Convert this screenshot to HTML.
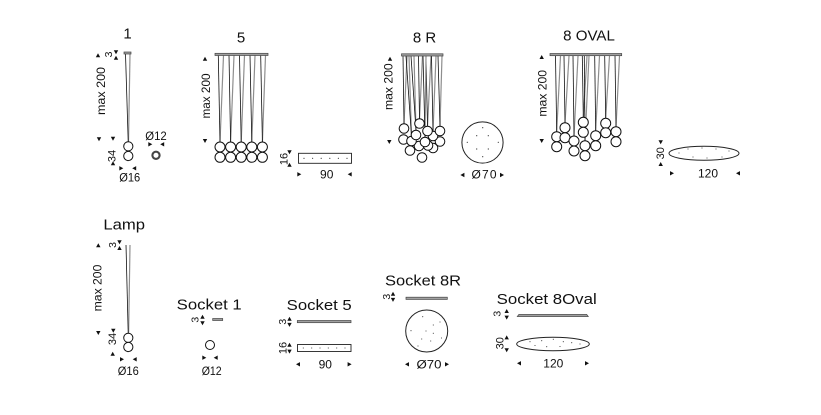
<!DOCTYPE html>
<html><head><meta charset="utf-8"><style>
html,body{margin:0;padding:0;background:#fff;}
svg{display:block;}
text{font-family:"Liberation Sans",sans-serif;fill:#111;}
.t{font-size:15px;}
.d{font-size:12px;}
.s{font-size:11px;}
.x{font-size:10.5px;}
.k{stroke:#111;stroke-width:0.8;}
.g{stroke:#8e8e8e;stroke-width:1.2;}
.b{fill:#fff;stroke:#111;stroke-width:1;}
.cp{fill:#a0a0a0;stroke:#444;stroke-width:0.7;}
.dot{fill:#333;}
</style></head><body>
<svg width="821" height="415" viewBox="0 0 821 415" xmlns="http://www.w3.org/2000/svg">
<defs>
<path id="au" d="M0,-2.3 L2.2,1.7 L-2.2,1.7Z" fill="#111"/>
<path id="ad" d="M0,2.3 L2.2,-1.7 L-2.2,-1.7Z" fill="#111"/>
<path id="ar" d="M2.3,0 L-1.7,-2.2 L-1.7,2.2Z" fill="#111"/>
<path id="al" d="M-2.3,0 L1.7,-2.2 L1.7,2.2Z" fill="#111"/>
</defs>

<!-- ===== 1 ===== -->
<text class="t" x="127.5" y="38.5" text-anchor="middle">1</text>
<line class="g" x1="130" y1="54" x2="128.5" y2="141.5"/>
<line class="k" x1="125.5" y1="54" x2="128.2" y2="141.5"/>
<rect class="cp" x="124" y="52" width="7" height="2"/>
<circle class="b" cx="128.3" cy="146.3" r="4.6"/>
<circle class="b" cx="128.3" cy="156" r="4.6"/>
<text class="d" transform="translate(105,91) rotate(-90)" text-anchor="middle" textLength="48" lengthAdjust="spacingAndGlyphs">max 200</text>
<use href="#au" x="98" y="55.5"/><use href="#ad" x="99" y="139"/>
<text class="x" transform="translate(112,54.5) rotate(-90)" text-anchor="middle">3</text>
<use href="#ad" x="116" y="52"/><use href="#au" x="116" y="58"/>
<text class="s" transform="translate(115.5,156) rotate(-90)" text-anchor="middle">34</text>
<use href="#ad" x="113" y="138.5"/><use href="#au" x="113" y="163.5"/>
<text class="d" x="129.7" y="181.7" text-anchor="middle" textLength="21" lengthAdjust="spacingAndGlyphs">Ø16</text>
<use href="#ar" x="121" y="168.3"/><use href="#al" x="134.5" y="168.3"/>
<text class="d" x="156" y="140" text-anchor="middle" textLength="21.5" lengthAdjust="spacingAndGlyphs">Ø12</text>
<use href="#ar" x="150" y="144.3"/><use href="#al" x="162.5" y="144.3"/>
<circle cx="156" cy="155.3" r="3.6" fill="none" stroke="#444" stroke-width="2.1"/>

<!-- ===== 5 ===== -->
<text class="t" x="241" y="42.5" text-anchor="middle">5</text>
<g>
<line class="g" x1="223.5" y1="55.5" x2="220" y2="142"/><line class="k" x1="218.3" y1="55.5" x2="220" y2="142"/>
<line class="g" x1="234" y1="55.5" x2="230.6" y2="142"/><line class="k" x1="229" y1="55.5" x2="230.6" y2="142"/>
<line class="g" x1="244.5" y1="55.5" x2="241.2" y2="142"/><line class="k" x1="239.5" y1="55.5" x2="241.2" y2="142"/>
<line class="g" x1="255" y1="55.5" x2="251.8" y2="142"/><line class="k" x1="250" y1="55.5" x2="251.8" y2="142"/>
<line class="g" x1="265.5" y1="55.5" x2="262.4" y2="142"/><line class="k" x1="260.7" y1="55.5" x2="262.4" y2="142"/>
</g>
<rect class="cp" x="215" y="53.3" width="53" height="2.2"/>
<g>
<circle class="b" cx="220" cy="147" r="5"/><circle class="b" cx="230.6" cy="147" r="5"/><circle class="b" cx="241.2" cy="147" r="5"/><circle class="b" cx="251.8" cy="147" r="5"/><circle class="b" cx="262.4" cy="147" r="5"/>
<circle class="b" cx="220" cy="157.3" r="5"/><circle class="b" cx="230.6" cy="157.3" r="5"/><circle class="b" cx="241.2" cy="157.3" r="5"/><circle class="b" cx="251.8" cy="157.3" r="5"/><circle class="b" cx="262.4" cy="157.3" r="5"/>
</g>
<text class="d" transform="translate(210,96) rotate(-90)" text-anchor="middle" textLength="45" lengthAdjust="spacingAndGlyphs">max 200</text>
<use href="#au" x="205" y="59"/><use href="#ad" x="205" y="140.7"/>

<!-- socket 5 top -->
<text class="s" transform="translate(287.3,159) rotate(-90)" text-anchor="middle">16</text>
<use href="#ad" x="289.5" y="152"/><use href="#au" x="289.5" y="165"/>
<rect x="298.5" y="153.3" width="53" height="10" fill="#fff" stroke="#222" stroke-width="0.9"/>
<g class="dot"><circle cx="304" cy="158.3" r="0.6"/><circle cx="312.6" cy="158.3" r="0.6"/><circle cx="321.2" cy="158.3" r="0.6"/><circle cx="329.8" cy="158.3" r="0.6"/><circle cx="338.4" cy="158.3" r="0.6"/><circle cx="347" cy="158.3" r="0.6"/></g>
<text class="d" x="326.7" y="178.3" text-anchor="middle">90</text>
<use href="#ar" x="299" y="174.3"/><use href="#al" x="350" y="174.3"/>

<!-- ===== 8 R ===== -->
<text class="t" x="424.5" y="42.7" text-anchor="middle">8 R</text>
<g>
<line class="g" x1="407" y1="56" x2="404" y2="123.7"/><line class="k" x1="403" y1="56" x2="404" y2="123.7"/>
<line class="g" x1="422.5" y1="56" x2="419.5" y2="118.7"/><line class="k" x1="418.5" y1="56" x2="419.5" y2="118.7"/>
<line class="g" x1="431" y1="56" x2="427.5" y2="126.2"/><line class="k" x1="426" y1="56" x2="427.5" y2="126.2"/>
<line class="g" x1="442" y1="56" x2="440" y2="126.2"/><line class="k" x1="438" y1="56" x2="440" y2="126.2"/>
<line class="g" x1="414" y1="56" x2="416" y2="130.2"/><line class="k" x1="411" y1="56" x2="416" y2="130.2"/>
<line class="g" x1="436" y1="56" x2="433" y2="131.2"/><line class="k" x1="431.5" y1="56" x2="433" y2="131.2"/>
<line class="g" x1="409" y1="56" x2="411.5" y2="136.2"/><line class="k" x1="406" y1="56" x2="411.5" y2="136.2"/>
<line class="g" x1="426" y1="56" x2="425" y2="137.2"/><line class="k" x1="423" y1="56" x2="425" y2="137.2"/>
</g>
<rect class="cp" x="401.5" y="53.8" width="41.5" height="2.2"/>
<g>
<circle class="b" cx="422" cy="157.5" r="4.8"/>
<circle class="b" cx="410" cy="150.5" r="4.8"/>
<circle class="b" cx="433" cy="148" r="4.8"/>
<circle class="b" cx="428" cy="145.5" r="4.8"/>
<circle class="b" cx="419" cy="146" r="4.8"/>
<circle class="b" cx="440" cy="141.5" r="4.8"/>
<circle class="b" cx="403.5" cy="139.5" r="4.8"/>
<circle class="b" cx="411.5" cy="141" r="4.8"/>
<circle class="b" cx="425" cy="142" r="4.8"/>
<circle class="b" cx="416" cy="135" r="4.8"/>
<circle class="b" cx="433" cy="136" r="4.8"/>
<circle class="b" cx="404" cy="128.5" r="4.8"/>
<circle class="b" cx="427.5" cy="131" r="4.8"/>
<circle class="b" cx="440" cy="131" r="4.8"/>
<circle class="b" cx="419.5" cy="123.5" r="4.8"/>
</g>
<text class="d" transform="translate(392.7,86.7) rotate(-90)" text-anchor="middle" textLength="46.7" lengthAdjust="spacingAndGlyphs">max 200</text>
<use href="#au" x="390" y="59"/><use href="#ad" x="389.3" y="141.7"/>
<circle cx="482.5" cy="142.5" r="20.6" fill="#fff" stroke="#222" stroke-width="1"/>
<g class="dot"><circle cx="482.7" cy="127.7" r="0.6"/><circle cx="476.7" cy="135.7" r="0.6"/><circle cx="488.3" cy="135.7" r="0.6"/><circle cx="467.3" cy="142.3" r="0.6"/><circle cx="498.3" cy="142.3" r="0.6"/><circle cx="476.7" cy="149" r="0.6"/><circle cx="488.3" cy="149" r="0.6"/><circle cx="482.7" cy="156.7" r="0.6"/></g>
<text class="d" x="484" y="178.3" text-anchor="middle" textLength="25" lengthAdjust="spacing">Ø70</text>
<use href="#al" x="462.7" y="175"/><use href="#ar" x="501.7" y="175"/>

<!-- ===== 8 OVAL ===== -->
<text class="t" x="589" y="40.7" text-anchor="middle" textLength="51.7" lengthAdjust="spacingAndGlyphs">8 OVAL</text>
<g>
<line class="g" x1="560.5" y1="56" x2="556.7" y2="131.7"/><line class="k" x1="555.5" y1="56" x2="556.7" y2="131.7"/>
<line class="g" x1="569" y1="56" x2="565" y2="122.7"/><line class="k" x1="564" y1="56" x2="565" y2="122.7"/>
<line class="g" x1="578" y1="56" x2="574" y2="136"/><line class="k" x1="573" y1="56" x2="574" y2="136"/>
<line class="g" x1="587" y1="56" x2="583.3" y2="117.3"/><line class="k" x1="582.3" y1="56" x2="583.3" y2="117.3"/>
<line class="g" x1="589" y1="56" x2="585" y2="140.7"/><line class="k" x1="584.3" y1="56" x2="585" y2="140.7"/>
<line class="g" x1="599.5" y1="56" x2="595.7" y2="130.7"/><line class="k" x1="594.7" y1="56" x2="595.7" y2="130.7"/>
<line class="g" x1="609.5" y1="56" x2="605.7" y2="118.3"/><line class="k" x1="604.7" y1="56" x2="605.7" y2="118.3"/>
<line class="g" x1="619.5" y1="56" x2="616" y2="126.7"/><line class="k" x1="615" y1="56" x2="616" y2="126.7"/>
</g>
<rect class="cp" x="550" y="53.5" width="71.7" height="2.2"/>
<g>
<circle class="b" cx="556.7" cy="136.7" r="5"/><circle class="b" cx="556.7" cy="146.7" r="5"/>
<circle class="b" cx="565" cy="127.7" r="5"/><circle class="b" cx="565" cy="137.7" r="5"/>
<circle class="b" cx="574" cy="141" r="5"/><circle class="b" cx="574" cy="151" r="5"/>
<circle class="b" cx="583.3" cy="122.3" r="5"/><circle class="b" cx="583.3" cy="132.3" r="5"/>
<circle class="b" cx="585" cy="145.7" r="5"/><circle class="b" cx="585" cy="155.7" r="5"/>
<circle class="b" cx="595.7" cy="135.7" r="5"/><circle class="b" cx="595.7" cy="145.7" r="5"/>
<circle class="b" cx="605.7" cy="123.3" r="5"/><circle class="b" cx="605.7" cy="132.7" r="5"/>
<circle class="b" cx="616" cy="131.7" r="5"/><circle class="b" cx="616" cy="141.7" r="5"/>
</g>
<text class="d" transform="translate(546.7,93.3) rotate(-90)" text-anchor="middle" textLength="46.7" lengthAdjust="spacingAndGlyphs">max 200</text>
<use href="#au" x="541.7" y="57.3"/><use href="#ad" x="541.7" y="140.7"/>
<ellipse cx="704" cy="153.3" rx="35" ry="7" fill="#fff" stroke="#222" stroke-width="1"/>
<g class="dot"><circle cx="688" cy="149" r="0.55"/><circle cx="702" cy="148" r="0.55"/><circle cx="716" cy="149" r="0.55"/><circle cx="729" cy="151" r="0.55"/><circle cx="679" cy="153" r="0.55"/><circle cx="693" cy="157" r="0.55"/><circle cx="707" cy="158" r="0.55"/><circle cx="722" cy="157" r="0.55"/></g>
<text class="s" transform="translate(664,153.3) rotate(-90)" text-anchor="middle">30</text>
<use href="#ad" x="660.7" y="142"/><use href="#au" x="660.7" y="164.3"/>
<text class="d" x="708" y="177.5" text-anchor="middle">120</text>
<use href="#ar" x="671.7" y="173.3"/><use href="#al" x="738.3" y="173.3"/>

<!-- ===== Lamp ===== -->
<text class="t" x="124.2" y="229.5" text-anchor="middle" textLength="41.7" lengthAdjust="spacingAndGlyphs">Lamp</text>
<line class="g" x1="130" y1="245" x2="128.6" y2="333.2"/>
<line class="k" x1="126" y1="245" x2="128.2" y2="333.2"/>
<circle class="b" cx="128.3" cy="337.8" r="4.6"/>
<circle class="b" cx="128.3" cy="347" r="4.6"/>
<text class="d" transform="translate(101.7,288) rotate(-90)" text-anchor="middle" textLength="46.7" lengthAdjust="spacingAndGlyphs">max 200</text>
<use href="#au" x="98.3" y="245.5"/><use href="#ad" x="98.3" y="332.7"/>
<text class="x" transform="translate(116,245) rotate(-90)" text-anchor="middle">3</text>
<use href="#ad" x="119.5" y="242"/><use href="#au" x="119.5" y="248.3"/>
<text class="s" transform="translate(116,339) rotate(-90)" text-anchor="middle">34</text>
<use href="#ad" x="113.3" y="330.5"/><use href="#au" x="112.7" y="354"/>
<use href="#ar" x="121.7" y="359.3"/><use href="#al" x="135" y="359.3"/>
<text class="d" x="128.3" y="375" text-anchor="middle" textLength="21" lengthAdjust="spacingAndGlyphs">Ø16</text>

<!-- ===== Socket 1 ===== -->
<text class="t" x="209.2" y="309.3" text-anchor="middle" textLength="65" lengthAdjust="spacingAndGlyphs">Socket 1</text>
<text class="x" transform="translate(198.5,319.7) rotate(-90)" text-anchor="middle">3</text>
<use href="#au" x="202.5" y="317"/><use href="#ad" x="202.5" y="323"/>
<rect class="cp" x="212.7" y="318.5" width="10" height="2"/>
<circle class="b" cx="210" cy="345" r="4.5"/>
<use href="#ar" x="204" y="357.7"/><use href="#al" x="216" y="357.7"/>
<text class="d" x="211.7" y="375" text-anchor="middle" textLength="20" lengthAdjust="spacingAndGlyphs">Ø12</text>

<!-- ===== Socket 5 ===== -->
<text class="t" x="319.2" y="310" text-anchor="middle" textLength="65" lengthAdjust="spacingAndGlyphs">Socket 5</text>
<text class="x" transform="translate(286,321.7) rotate(-90)" text-anchor="middle">3</text>
<use href="#au" x="289.5" y="319"/><use href="#ad" x="289.5" y="324.6"/>
<rect class="cp" x="297.3" y="320.5" width="53.7" height="2.2"/>
<text class="s" transform="translate(286.7,348) rotate(-90)" text-anchor="middle">16</text>
<use href="#au" x="289.5" y="345"/><use href="#ad" x="289.5" y="351.3"/>
<rect x="297.5" y="344.5" width="53.5" height="7" fill="#fff" stroke="#222" stroke-width="0.9"/>
<g class="dot"><circle cx="303.3" cy="348" r="0.55"/><circle cx="311.7" cy="348" r="0.55"/><circle cx="320" cy="348" r="0.55"/><circle cx="328.3" cy="348" r="0.55"/><circle cx="336.7" cy="348" r="0.55"/><circle cx="345" cy="348" r="0.55"/></g>
<text class="d" x="325.3" y="368.3" text-anchor="middle">90</text>
<use href="#al" x="298.3" y="364.3"/><use href="#ar" x="349.3" y="364.3"/>

<!-- ===== Socket 8R ===== -->
<text class="t" x="423" y="285.5" text-anchor="middle" textLength="76" lengthAdjust="spacingAndGlyphs">Socket 8R</text>
<text class="x" transform="translate(390,296.7) rotate(-90)" text-anchor="middle">3</text>
<use href="#au" x="393" y="294"/><use href="#ad" x="393" y="299.6"/>
<rect class="cp" x="406" y="297.2" width="41.3" height="2.2"/>
<circle cx="426.7" cy="331" r="21" fill="#fff" stroke="#222" stroke-width="1"/>
<g class="dot"><circle cx="422.7" cy="316.7" r="0.55"/><circle cx="433.3" cy="325" r="0.55"/><circle cx="440" cy="322" r="0.55"/><circle cx="411" cy="330.7" r="0.55"/><circle cx="426" cy="331" r="0.55"/><circle cx="433.3" cy="333.3" r="0.55"/><circle cx="421.7" cy="339" r="0.55"/><circle cx="430.7" cy="341" r="0.55"/><circle cx="441.5" cy="338" r="0.55"/><circle cx="418" cy="346" r="0.55"/></g>
<text class="d" x="429" y="368.3" text-anchor="middle" textLength="25" lengthAdjust="spacingAndGlyphs">Ø70</text>
<use href="#al" x="407.3" y="364.3"/><use href="#ar" x="446.7" y="364.3"/>

<!-- ===== Socket 8Oval ===== -->
<text class="t" x="546.7" y="304" text-anchor="middle" textLength="100" lengthAdjust="spacingAndGlyphs">Socket 8Oval</text>
<text class="x" transform="translate(500.5,313.7) rotate(-90)" text-anchor="middle">3</text>
<use href="#au" x="506.7" y="311.3"/><use href="#ad" x="506.7" y="317.3"/>
<path d="M517.3,316.5 L519,314.3 L586.6,314.3 L588.3,316.5 Z" fill="#a0a0a0" stroke="#444" stroke-width="0.7"/>
<text class="s" transform="translate(503.3,343.3) rotate(-90)" text-anchor="middle">30</text>
<use href="#au" x="506.7" y="337.7"/><use href="#ad" x="506.7" y="350"/>
<ellipse cx="553" cy="344" rx="36.3" ry="6.7" fill="#fff" stroke="#222" stroke-width="1"/>
<g class="dot"><circle cx="530" cy="341.7" r="0.55"/><circle cx="541.7" cy="340.7" r="0.55"/><circle cx="553.3" cy="339.3" r="0.55"/><circle cx="563.3" cy="341.7" r="0.55"/><circle cx="571.7" cy="342.7" r="0.55"/><circle cx="535" cy="345.5" r="0.55"/><circle cx="546.7" cy="346.7" r="0.55"/><circle cx="560" cy="346.5" r="0.55"/><circle cx="580" cy="344" r="0.55"/></g>
<text class="d" x="553.3" y="367.3" text-anchor="middle">120</text>
<use href="#al" x="519.3" y="363.3"/><use href="#ar" x="586.7" y="363.3"/>
</svg>
</body></html>
